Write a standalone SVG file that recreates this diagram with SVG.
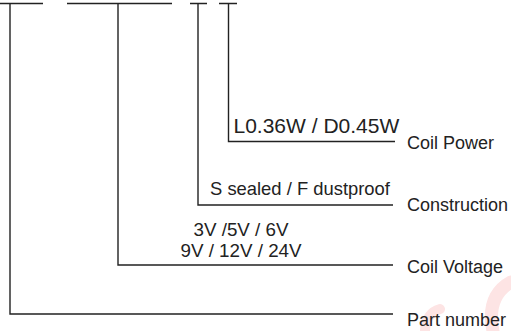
<svg xmlns="http://www.w3.org/2000/svg" width="511" height="331" viewBox="0 0 511 331">
<style>
.ln{stroke:#222;stroke-width:1.4;fill:none}
.val{font-family:"Liberation Sans",Arial,sans-serif;fill:#222}
.lab{font-family:"Liberation Sans",Arial,sans-serif;font-size:18px;fill:#222}
.wm{stroke:#fde4e4;fill:none;stroke-linecap:round}
</style>
<rect width="511" height="331" fill="#fff"/>
<g id="watermark">
<path class="wm" d="M511 282 Q486 296 493 331" stroke-width="13"/>
<path class="wm" d="M440 309 Q426 313 425 331" stroke-width="10"/>
</g>
<g id="connectors">
<path class="ln" d="M0 3.5H43M67 3.5H172M190 3.5H207M219 3.5H237"/>
<path class="ln" d="M10 3.5V314H393"/>
<path class="ln" d="M118 3.5V265H393"/>
<path class="ln" d="M198 3.5V205H393"/>
<path class="ln" d="M228.5 3.5V141.5H395"/>
</g>
<g id="coil-power">
<text class="val" x="233.5" y="133" font-size="21">L0.36W / D0.45W</text>
<text class="lab" x="407" y="149">Coil Power</text>
</g>
<g id="construction">
<text class="val" x="210" y="195" font-size="18.4">S sealed / F dustproof</text>
<text class="lab" x="407" y="211">Construction</text>
</g>
<g id="coil-voltage">
<text class="val" x="241" y="235.5" font-size="18.8" text-anchor="middle">3V /5V / 6V</text>
<text class="val" x="241" y="256.5" font-size="18.8" text-anchor="middle">9V / 12V / 24V</text>
<text class="lab" x="407" y="273">Coil Voltage</text>
</g>
<g id="part-number">
<text class="lab" x="407" y="326">Part number</text>
</g>
</svg>
